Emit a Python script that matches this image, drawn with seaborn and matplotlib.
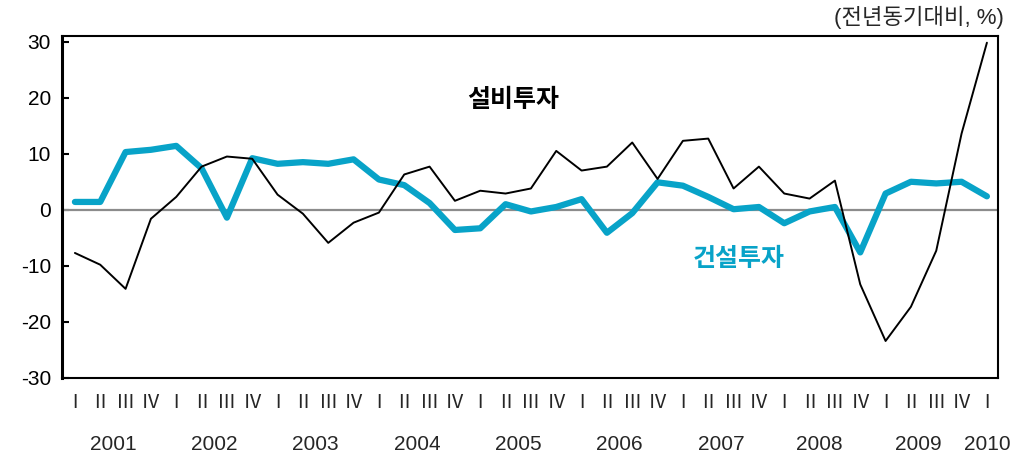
import numpy as np
import pandas as pd
import matplotlib
matplotlib.use('Agg')
import matplotlib.pyplot as plt
import seaborn as sns

# quarters 2001 Q1 .. 2010 Q1
quarters = ['Ⅰ', 'Ⅱ', 'Ⅲ', 'Ⅳ'] * 9 + ['Ⅰ']
years = ['2001', '2002', '2003', '2004', '2005', '2006', '2007', '2008', '2009', '2010']
year_pos = [1.5, 5.5, 9.5, 13.5, 17.5, 21.5, 25.5, 29.4, 33.3, 36]

equip = [-7.7, -9.8, -14.1, -1.6,
         2.3, 7.7, 9.5, 9.1,
         2.7, -0.7, -5.9, -2.3,
         -0.5, 6.3, 7.7, 1.6,
         3.4, 2.9, 3.8, 10.5,
         7.0, 7.7, 12.0, 5.5,
         12.3, 12.7, 3.8, 7.7,
         2.9, 2.0, 5.2, -13.3,
         -23.4, -17.3, -7.3, 13.6,
         29.8]
constr = [1.4, 1.4, 10.3, 10.7,
          11.4, 7.4, -1.4, 9.2,
          8.2, 8.5, 8.2, 9.0,
          5.4, 4.4, 1.2, -3.6,
          -3.3, 1.0, -0.3, 0.5,
          1.9, -4.1, -0.6, 4.9,
          4.3, 2.3, 0.1, 0.5,
          -2.4, -0.3, 0.5, -7.6,
          2.9, 5.0, 4.7, 5.0,
          2.4]

cyan = '#08A3C8'

sns.set_style('white')
plt.rcParams['font.family'] = ['Liberation Sans', 'Noto Sans CJK KR']

df = pd.DataFrame({'idx': np.arange(len(equip)), 'equip': equip, 'constr': constr})

fig = plt.figure(figsize=(10.13, 4.59), dpi=100)
ax = fig.add_axes([0.0612, 0.1765, 0.9238, 0.7451])

ax.axhline(0, color='#8c8c8c', lw=1.6, zorder=1)
sns.lineplot(data=df, x='idx', y='constr', ax=ax, color=cyan, lw=4.5, zorder=3)
sns.lineplot(data=df, x='idx', y='equip', ax=ax, color='black', lw=1.4, zorder=4)

ax.set_xlim(-0.51, 36.43)
ax.set_ylim(-30, 31)
ax.set_yticks([30, 20, 10, 0, -10, -20, -30])
ax.set_yticklabels(['30', '20', '10', '0', '-10', '-20', '-30'], fontsize=15)
ax.tick_params(axis='y', direction='in', length=5, width=1.5, left=True, pad=8, colors='black')
ax.set_xticks(df['idx'])
ax.set_xticklabels(quarters, fontsize=14, family=['Noto Sans CJK KR'])
ax.tick_params(axis='x', length=0, pad=10)
ax.set_xlabel('')
ax.set_ylabel('')

for side in ['top', 'right', 'bottom']:
    ax.spines[side].set_linewidth(1.5)
    ax.spines[side].set_color('black')
ax.spines['left'].set_linewidth(2.2)
ax.spines['left'].set_color('black')

for y, p in zip(years, year_pos):
    ax.text(p, -0.195, y, transform=ax.get_xaxis_transform(), ha='center', va='center', fontsize=15)

ax.text(17.3, 19.5, '설비투자', ha='center', va='center', fontsize=18, fontweight='bold', color='black')
ax.text(26.2, -8.8, '건설투자', ha='center', va='center', fontsize=18, fontweight='bold', color=cyan)
fig.text(0.991, 0.962, '(전년동기대비, %)', ha='right', va='center', fontsize=16)

fig.savefig('out.png', dpi=100)
